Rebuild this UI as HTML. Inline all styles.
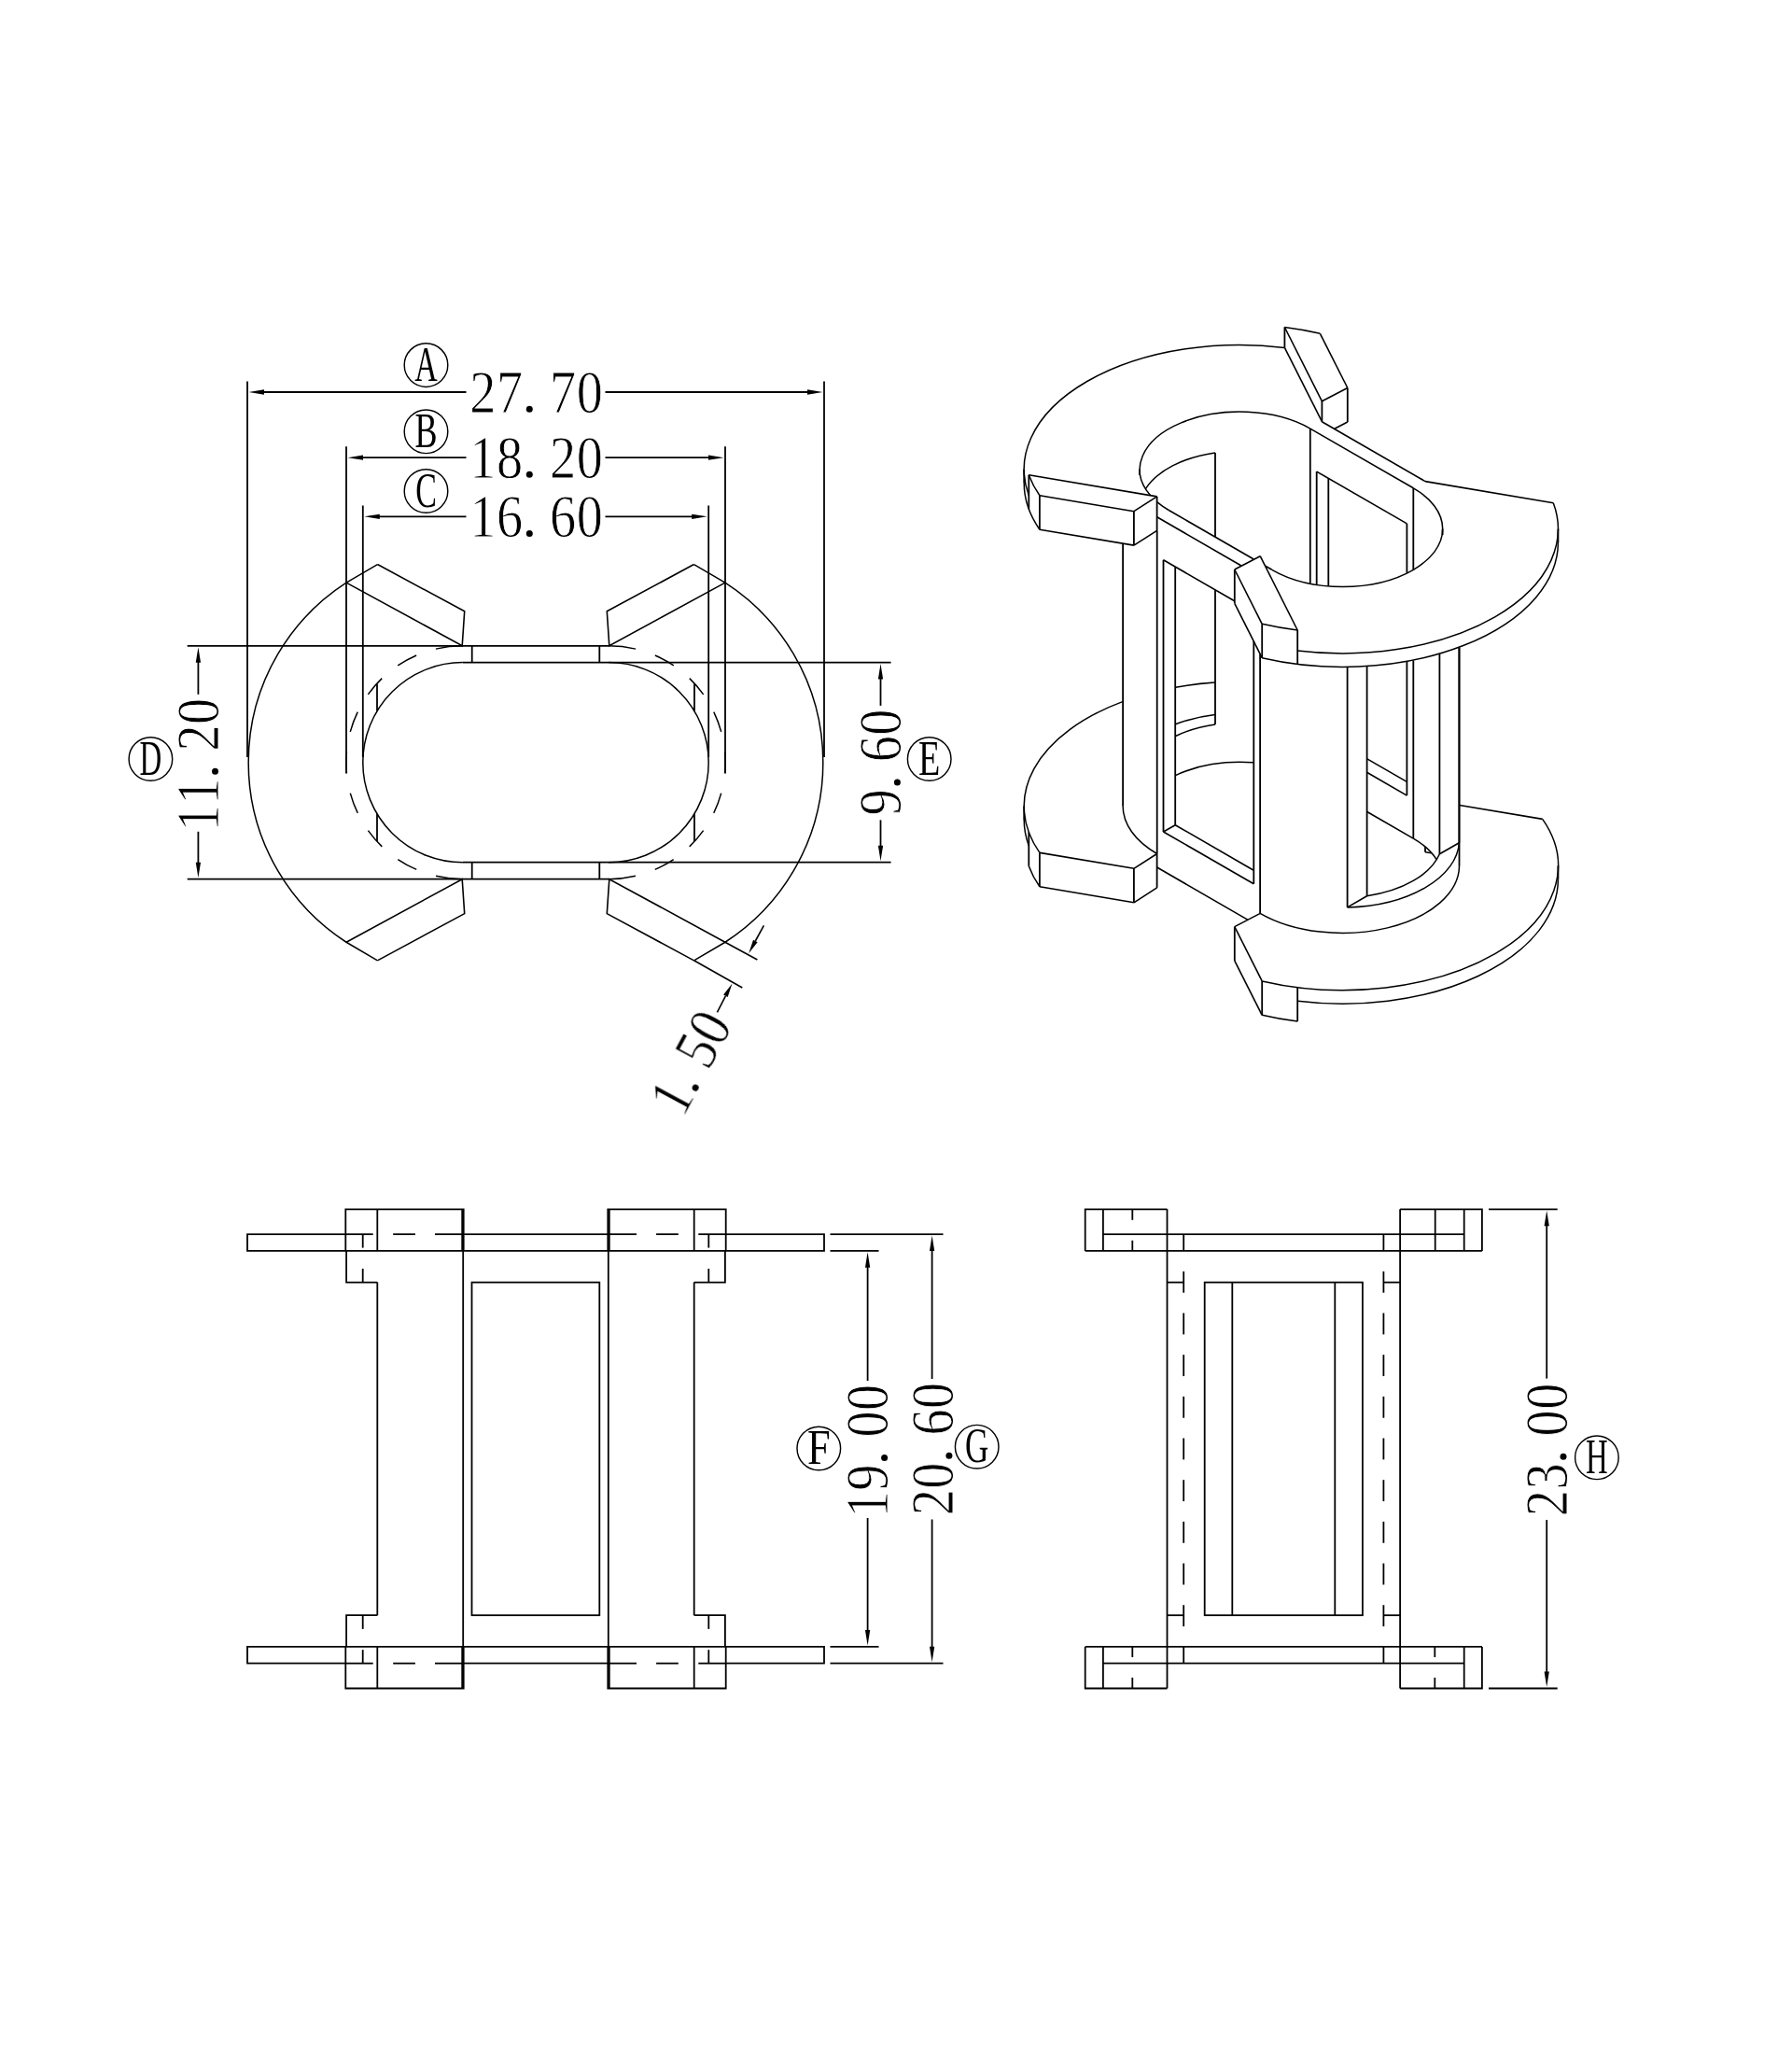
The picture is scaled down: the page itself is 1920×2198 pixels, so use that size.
<!DOCTYPE html>
<html><head><meta charset="utf-8"><title>drawing</title>
<style>
html,body{margin:0;padding:0;background:#fff;}
svg{display:block;}
text{font-family:"Liberation Serif",serif;fill:#000;}
svg{-webkit-font-smoothing:antialiased;}
</style></head>
<body>
<svg width="1920" height="2198" viewBox="0 0 1920 2198" fill="none" stroke="#000" stroke-linecap="butt">
<rect x="0" y="0" width="1920" height="2198" fill="#fff" stroke="none"/>
<g id="top" opacity="0.999">
<line x1="265.00" y1="408.50" x2="265.00" y2="811.00" stroke-width="1.8" />
<line x1="883.00" y1="408.50" x2="883.00" y2="811.00" stroke-width="1.8" />
<line x1="371.00" y1="478.20" x2="371.00" y2="828.50" stroke-width="1.8" />
<line x1="777.00" y1="478.20" x2="777.00" y2="828.50" stroke-width="1.8" />
<line x1="388.80" y1="541.50" x2="388.80" y2="811.00" stroke-width="1.8" />
<line x1="759.20" y1="541.50" x2="759.20" y2="811.00" stroke-width="1.8" />
<line x1="282.00" y1="420.00" x2="499.50" y2="420.00" stroke-width="1.8" />
<line x1="648.50" y1="420.00" x2="866.00" y2="420.00" stroke-width="1.8" />
<polygon points="266.50,420.00 283.00,417.35 283.00,422.65" fill="#000" stroke="none"/>
<polygon points="881.50,420.00 865.00,422.65 865.00,417.35" fill="#000" stroke="none"/>
<line x1="388.00" y1="490.20" x2="499.50" y2="490.20" stroke-width="1.8" />
<line x1="648.50" y1="490.20" x2="760.00" y2="490.20" stroke-width="1.8" />
<polygon points="372.50,490.20 389.00,487.55 389.00,492.85" fill="#000" stroke="none"/>
<polygon points="775.50,490.20 759.00,492.85 759.00,487.55" fill="#000" stroke="none"/>
<line x1="405.80" y1="553.30" x2="499.50" y2="553.30" stroke-width="1.8" />
<line x1="648.50" y1="553.30" x2="742.20" y2="553.30" stroke-width="1.8" />
<polygon points="390.30,553.30 406.80,550.65 406.80,555.95" fill="#000" stroke="none"/>
<polygon points="757.70,553.30 741.20,555.95 741.20,550.65" fill="#000" stroke="none"/>
<g transform="translate(574.60,420.30) rotate(0)">
<text transform="translate(-57.20,21.5) scale(0.86,1)" text-anchor="middle" font-size="65.5" stroke="#fff" stroke-width="0.9">2</text>
<text transform="translate(-28.60,21.5) scale(0.86,1)" text-anchor="middle" font-size="65.5" stroke="#fff" stroke-width="0.9">7</text>
<circle cx="-7.30" cy="17.90" r="3.5" fill="#000" stroke="none"/>
<text transform="translate(28.60,21.5) scale(0.86,1)" text-anchor="middle" font-size="65.5" stroke="#fff" stroke-width="0.9">7</text>
<text transform="translate(57.20,21.5) scale(0.86,1)" text-anchor="middle" font-size="65.5" stroke="#fff" stroke-width="0.9">0</text>
</g>
<g transform="translate(574.60,490.30) rotate(0)">
<text transform="translate(-57.20,21.5) scale(0.86,1)" text-anchor="middle" font-size="65.5" stroke="#fff" stroke-width="0.9">1</text>
<text transform="translate(-28.60,21.5) scale(0.86,1)" text-anchor="middle" font-size="65.5" stroke="#fff" stroke-width="0.9">8</text>
<circle cx="-7.30" cy="17.90" r="3.5" fill="#000" stroke="none"/>
<text transform="translate(28.60,21.5) scale(0.86,1)" text-anchor="middle" font-size="65.5" stroke="#fff" stroke-width="0.9">2</text>
<text transform="translate(57.20,21.5) scale(0.86,1)" text-anchor="middle" font-size="65.5" stroke="#fff" stroke-width="0.9">0</text>
</g>
<g transform="translate(574.60,553.60) rotate(0)">
<text transform="translate(-57.20,21.5) scale(0.86,1)" text-anchor="middle" font-size="65.5" stroke="#fff" stroke-width="0.9">1</text>
<text transform="translate(-28.60,21.5) scale(0.86,1)" text-anchor="middle" font-size="65.5" stroke="#fff" stroke-width="0.9">6</text>
<circle cx="-7.30" cy="17.90" r="3.5" fill="#000" stroke="none"/>
<text transform="translate(28.60,21.5) scale(0.86,1)" text-anchor="middle" font-size="65.5" stroke="#fff" stroke-width="0.9">6</text>
<text transform="translate(57.20,21.5) scale(0.86,1)" text-anchor="middle" font-size="65.5" stroke="#fff" stroke-width="0.9">0</text>
</g>
<circle cx="456.50" cy="391.10" r="23.3" stroke-width="1.45"/><text transform="translate(456.50,407.70) scale(0.64,1)" text-anchor="middle" font-size="53" stroke="none">A</text>
<circle cx="456.50" cy="462.30" r="23.3" stroke-width="1.45"/><text transform="translate(456.50,478.90) scale(0.68,1)" text-anchor="middle" font-size="53" stroke="none">B</text>
<circle cx="456.50" cy="526.00" r="23.3" stroke-width="1.45"/><text transform="translate(456.50,542.60) scale(0.64,1)" text-anchor="middle" font-size="53" stroke="none">C</text>
<line x1="200.70" y1="691.80" x2="652.60" y2="691.80" stroke-width="1.8" />
<line x1="200.70" y1="941.70" x2="652.60" y2="941.70" stroke-width="1.8" />
<line x1="212.40" y1="708.70" x2="212.40" y2="743.80" stroke-width="1.8" />
<line x1="212.40" y1="890.80" x2="212.40" y2="924.80" stroke-width="1.8" />
<polygon points="212.40,693.20 215.05,709.70 209.75,709.70" fill="#000" stroke="none"/>
<polygon points="212.40,940.30 209.75,923.80 215.05,923.80" fill="#000" stroke="none"/>
<g transform="translate(212.60,819.00) rotate(-90)">
<text transform="translate(-57.20,21.5) scale(0.86,1)" text-anchor="middle" font-size="65.5" stroke="#fff" stroke-width="0.9">1</text>
<text transform="translate(-28.60,21.5) scale(0.86,1)" text-anchor="middle" font-size="65.5" stroke="#fff" stroke-width="0.9">1</text>
<circle cx="-7.30" cy="17.90" r="3.5" fill="#000" stroke="none"/>
<text transform="translate(28.60,21.5) scale(0.86,1)" text-anchor="middle" font-size="65.5" stroke="#fff" stroke-width="0.9">2</text>
<text transform="translate(57.20,21.5) scale(0.86,1)" text-anchor="middle" font-size="65.5" stroke="#fff" stroke-width="0.9">0</text>
</g>
<circle cx="161.40" cy="813.00" r="23.3" stroke-width="1.45"/><text transform="translate(161.40,829.60) scale(0.62,1)" text-anchor="middle" font-size="53" stroke="none">D</text>
<line x1="495.90" y1="709.70" x2="954.60" y2="709.70" stroke-width="1.8" />
<line x1="495.90" y1="923.60" x2="954.60" y2="923.60" stroke-width="1.8" />
<line x1="943.50" y1="726.60" x2="943.50" y2="755.90" stroke-width="1.8" />
<line x1="943.50" y1="878.40" x2="943.50" y2="906.70" stroke-width="1.8" />
<polygon points="943.50,711.10 946.15,727.60 940.85,727.60" fill="#000" stroke="none"/>
<polygon points="943.50,922.20 940.85,905.70 946.15,905.70" fill="#000" stroke="none"/>
<g transform="translate(943.50,816.50) rotate(-90)">
<text transform="translate(-42.90,21.5) scale(0.86,1)" text-anchor="middle" font-size="65.5" stroke="#fff" stroke-width="0.9">9</text>
<circle cx="-21.60" cy="17.90" r="3.5" fill="#000" stroke="none"/>
<text transform="translate(14.30,21.5) scale(0.86,1)" text-anchor="middle" font-size="65.5" stroke="#fff" stroke-width="0.9">6</text>
<text transform="translate(42.90,21.5) scale(0.86,1)" text-anchor="middle" font-size="65.5" stroke="#fff" stroke-width="0.9">0</text>
</g>
<circle cx="995.70" cy="813.00" r="23.3" stroke-width="1.45"/><text transform="translate(995.70,829.60) scale(0.72,1)" text-anchor="middle" font-size="53" stroke="none">E</text>
<path d="M404.46 604.56 L371.05 624.15 A229.2 229.2 0 0 0 371.05 1009.25 L404.46 1028.84" stroke-width="1.5" />
<path d="M743.54 604.56 L776.95 624.15 A229.2 229.2 0 0 1 776.95 1009.25 L743.54 1028.84" stroke-width="1.5" />
<path d="M404.46 604.56 L497.70 654.80 L495.20 691.70 L371.05 624.15" stroke-width="1.6" stroke-linejoin="miter"/>
<path d="M404.46 1028.84 L497.70 978.60 L495.20 941.70 L371.05 1009.25" stroke-width="1.6" stroke-linejoin="miter"/>
<path d="M743.54 604.56 L650.30 654.80 L652.80 691.70 L776.95 624.15" stroke-width="1.6" stroke-linejoin="miter"/>
<path d="M743.54 1028.84 L650.30 978.60 L652.80 941.70 L776.95 1009.25" stroke-width="1.6" stroke-linejoin="miter"/>
<line x1="776.90" y1="1009.20" x2="811.40" y2="1028.00" stroke-width="1.6" />
<line x1="743.50" y1="1028.80" x2="795.30" y2="1058.00" stroke-width="1.6" />
<path d="M495.90 709.60 A107.1 107.1 0 0 0 495.90 923.80" stroke-width="1.5" />
<path d="M652.10 709.60 A107.1 107.1 0 0 1 652.10 923.80" stroke-width="1.5" />
<path d="M495.90 691.70 A125.0 125.0 0 0 0 495.90 941.70" stroke-width="1.5" stroke-dasharray="29.3 21.85 22.75 21.85 22.75 21.85 22.75 21.85 22.75 21.85 22.75 21.85 22.75 21.85 22.75 21.85 29.3"/>
<path d="M652.10 691.70 A125.0 125.0 0 0 1 652.10 941.70" stroke-width="1.5" stroke-dasharray="29.3 21.85 22.75 21.85 22.75 21.85 22.75 21.85 22.75 21.85 22.75 21.85 22.75 21.85 22.75 21.85 29.3"/>
<line x1="505.70" y1="691.80" x2="505.70" y2="709.70" stroke-width="1.8" />
<line x1="505.70" y1="923.60" x2="505.70" y2="941.70" stroke-width="1.8" />
<line x1="404.00" y1="732.50" x2="404.00" y2="761.70" stroke-width="1.8" />
<line x1="404.00" y1="871.70" x2="404.00" y2="901.00" stroke-width="1.8" />
<line x1="642.30" y1="691.80" x2="642.30" y2="709.70" stroke-width="1.8" />
<line x1="642.30" y1="923.60" x2="642.30" y2="941.70" stroke-width="1.8" />
<line x1="744.00" y1="732.50" x2="744.00" y2="761.70" stroke-width="1.8" />
<line x1="744.00" y1="871.70" x2="744.00" y2="901.00" stroke-width="1.8" />
<line x1="818.40" y1="991.40" x2="809.30" y2="1008.00" stroke-width="1.6" />
<polygon points="802.20,1021.20 807.02,1006.76 811.60,1009.23" fill="#000" stroke="none"/>
<line x1="768.40" y1="1084.30" x2="777.40" y2="1066.80" stroke-width="1.6" />
<polygon points="784.50,1053.60 779.68,1068.04 775.10,1065.57" fill="#000" stroke="none"/>
<g transform="translate(739.50,1137.60) rotate(-61.7)">
<text transform="translate(-42.90,21.5) scale(0.86,1)" text-anchor="middle" font-size="65.5" stroke="#fff" stroke-width="0.9">1</text>
<circle cx="-21.60" cy="17.90" r="3.5" fill="#000" stroke="none"/>
<text transform="translate(14.30,21.5) scale(0.86,1)" text-anchor="middle" font-size="65.5" stroke="#fff" stroke-width="0.9">5</text>
<text transform="translate(42.90,21.5) scale(0.86,1)" text-anchor="middle" font-size="65.5" stroke="#fff" stroke-width="0.9">0</text>
</g>
</g>
<g id="front" opacity="0.999">
<path d="M370.5 1322.10 L265 1322.10 L265 1339.90 L883 1339.90 L883 1322.10 L777.5 1322.10" stroke-width="1.8" />
<line x1="496.50" y1="1322.10" x2="651.50" y2="1322.10" stroke-width="1.8" />
<path d="M777.70 1339.90 L777.70 1295.30 L651.30 1295.30 L651.30 1339.90" stroke-width="1.8" />
<line x1="652.80" y1="1295.30" x2="652.80" y2="1339.90" stroke-width="1.8" />
<line x1="743.70" y1="1295.30" x2="743.70" y2="1339.90" stroke-width="1.8" />
<line x1="777.70" y1="1322.10" x2="748.30" y2="1322.10" stroke-width="1.8" />
<line x1="726.80" y1="1322.10" x2="703.10" y2="1322.10" stroke-width="1.8" />
<line x1="682.00" y1="1322.10" x2="651.30" y2="1322.10" stroke-width="1.8" />
<line x1="759.30" y1="1322.10" x2="759.30" y2="1336.60" stroke-width="1.8" />
<line x1="759.30" y1="1358.90" x2="759.30" y2="1373.60" stroke-width="1.8" />
<path d="M776.90 1339.90 L776.90 1373.60 L743.70 1373.60" stroke-width="1.8" />
<path d="M370.30 1339.90 L370.30 1295.30 L496.70 1295.30 L496.70 1339.90" stroke-width="1.8" />
<line x1="495.20" y1="1295.30" x2="495.20" y2="1339.90" stroke-width="1.8" />
<line x1="404.30" y1="1295.30" x2="404.30" y2="1339.90" stroke-width="1.8" />
<line x1="370.30" y1="1322.10" x2="399.70" y2="1322.10" stroke-width="1.8" />
<line x1="421.20" y1="1322.10" x2="444.90" y2="1322.10" stroke-width="1.8" />
<line x1="466.00" y1="1322.10" x2="496.70" y2="1322.10" stroke-width="1.8" />
<line x1="388.70" y1="1322.10" x2="388.70" y2="1336.60" stroke-width="1.8" />
<line x1="388.70" y1="1358.90" x2="388.70" y2="1373.60" stroke-width="1.8" />
<path d="M371.10 1339.90 L371.10 1373.60 L404.30 1373.60" stroke-width="1.8" />
<path d="M370.5 1781.70 L265 1781.70 L265 1763.90 L883 1763.90 L883 1781.70 L777.5 1781.70" stroke-width="1.8" />
<line x1="496.50" y1="1781.70" x2="651.50" y2="1781.70" stroke-width="1.8" />
<path d="M777.70 1763.90 L777.70 1808.50 L651.30 1808.50 L651.30 1763.90" stroke-width="1.8" />
<line x1="652.80" y1="1808.50" x2="652.80" y2="1763.90" stroke-width="1.8" />
<line x1="743.70" y1="1808.50" x2="743.70" y2="1763.90" stroke-width="1.8" />
<line x1="777.70" y1="1781.70" x2="748.30" y2="1781.70" stroke-width="1.8" />
<line x1="726.80" y1="1781.70" x2="703.10" y2="1781.70" stroke-width="1.8" />
<line x1="682.00" y1="1781.70" x2="651.30" y2="1781.70" stroke-width="1.8" />
<line x1="759.30" y1="1781.70" x2="759.30" y2="1767.20" stroke-width="1.8" />
<line x1="759.30" y1="1744.90" x2="759.30" y2="1730.20" stroke-width="1.8" />
<path d="M776.90 1763.90 L776.90 1730.20 L743.70 1730.20" stroke-width="1.8" />
<path d="M370.30 1763.90 L370.30 1808.50 L496.70 1808.50 L496.70 1763.90" stroke-width="1.8" />
<line x1="495.20" y1="1808.50" x2="495.20" y2="1763.90" stroke-width="1.8" />
<line x1="404.30" y1="1808.50" x2="404.30" y2="1763.90" stroke-width="1.8" />
<line x1="370.30" y1="1781.70" x2="399.70" y2="1781.70" stroke-width="1.8" />
<line x1="421.20" y1="1781.70" x2="444.90" y2="1781.70" stroke-width="1.8" />
<line x1="466.00" y1="1781.70" x2="496.70" y2="1781.70" stroke-width="1.8" />
<line x1="388.70" y1="1781.70" x2="388.70" y2="1767.20" stroke-width="1.8" />
<line x1="388.70" y1="1744.90" x2="388.70" y2="1730.20" stroke-width="1.8" />
<path d="M371.10 1763.90 L371.10 1730.20 L404.30 1730.20" stroke-width="1.8" />
<line x1="743.70" y1="1373.60" x2="743.70" y2="1730.20" stroke-width="1.8" />
<line x1="651.80" y1="1339.90" x2="651.80" y2="1763.90" stroke-width="1.8" />
<line x1="404.30" y1="1373.60" x2="404.30" y2="1730.20" stroke-width="1.8" />
<line x1="496.20" y1="1339.90" x2="496.20" y2="1763.90" stroke-width="1.8" />
<rect x="505.5" y="1373.60" width="136.8" height="356.60" stroke-width="1.8"/>
<line x1="889.50" y1="1339.90" x2="941.50" y2="1339.90" stroke-width="1.8" />
<line x1="889.50" y1="1763.90" x2="941.50" y2="1763.90" stroke-width="1.8" />
<line x1="889.50" y1="1322.10" x2="1010.50" y2="1322.10" stroke-width="1.8" />
<line x1="889.50" y1="1781.70" x2="1010.50" y2="1781.70" stroke-width="1.8" />
<line x1="929.60" y1="1356.80" x2="929.60" y2="1479.00" stroke-width="1.8" />
<line x1="929.60" y1="1626.00" x2="929.60" y2="1747.00" stroke-width="1.8" />
<polygon points="929.60,1341.30 932.25,1357.80 926.95,1357.80" fill="#000" stroke="none"/>
<polygon points="929.60,1762.50 926.95,1746.00 932.25,1746.00" fill="#000" stroke="none"/>
<line x1="998.60" y1="1339.00" x2="998.60" y2="1477.00" stroke-width="1.8" />
<line x1="998.60" y1="1627.50" x2="998.60" y2="1764.80" stroke-width="1.8" />
<polygon points="998.60,1323.50 1001.25,1340.00 995.95,1340.00" fill="#000" stroke="none"/>
<polygon points="998.60,1780.30 995.95,1763.80 1001.25,1763.80" fill="#000" stroke="none"/>
<g transform="translate(929.70,1554.10) rotate(-90)">
<text transform="translate(-57.20,21.5) scale(0.86,1)" text-anchor="middle" font-size="65.5" stroke="#fff" stroke-width="0.9">1</text>
<text transform="translate(-28.60,21.5) scale(0.86,1)" text-anchor="middle" font-size="65.5" stroke="#fff" stroke-width="0.9">9</text>
<circle cx="-7.30" cy="17.90" r="3.5" fill="#000" stroke="none"/>
<text transform="translate(28.60,21.5) scale(0.86,1)" text-anchor="middle" font-size="65.5" stroke="#fff" stroke-width="0.9">0</text>
<text transform="translate(57.20,21.5) scale(0.86,1)" text-anchor="middle" font-size="65.5" stroke="#fff" stroke-width="0.9">0</text>
</g>
<g transform="translate(999.00,1552.00) rotate(-90)">
<text transform="translate(-57.20,21.5) scale(0.86,1)" text-anchor="middle" font-size="65.5" stroke="#fff" stroke-width="0.9">2</text>
<text transform="translate(-28.60,21.5) scale(0.86,1)" text-anchor="middle" font-size="65.5" stroke="#fff" stroke-width="0.9">0</text>
<circle cx="-7.30" cy="17.90" r="3.5" fill="#000" stroke="none"/>
<text transform="translate(28.60,21.5) scale(0.86,1)" text-anchor="middle" font-size="65.5" stroke="#fff" stroke-width="0.9">6</text>
<text transform="translate(57.20,21.5) scale(0.86,1)" text-anchor="middle" font-size="65.5" stroke="#fff" stroke-width="0.9">0</text>
</g>
<circle cx="877.30" cy="1551.50" r="23.3" stroke-width="1.45"/><text transform="translate(877.30,1568.10) scale(0.84,1)" text-anchor="middle" font-size="53" stroke="none">F</text>
<circle cx="1046.70" cy="1549.70" r="23.3" stroke-width="1.45"/><text transform="translate(1046.70,1566.30) scale(0.66,1)" text-anchor="middle" font-size="53" stroke="none">G</text>
</g>
<g id="side" opacity="0.999">
<line x1="1250.50" y1="1295.30" x2="1250.50" y2="1808.50" stroke-width="1.8" />
<line x1="1500.10" y1="1295.30" x2="1500.10" y2="1808.50" stroke-width="1.8" />
<path d="M1250.50 1295.30 L1162.70 1295.30 L1162.70 1339.90" stroke-width="1.8" />
<line x1="1181.90" y1="1295.30" x2="1181.90" y2="1339.90" stroke-width="1.8" />
<line x1="1213.30" y1="1295.30" x2="1213.30" y2="1306.80" stroke-width="1.8" />
<line x1="1213.30" y1="1328.70" x2="1213.30" y2="1339.90" stroke-width="1.8" />
<line x1="1268.20" y1="1322.10" x2="1268.20" y2="1339.90" stroke-width="1.8" />
<line x1="1250.50" y1="1373.60" x2="1268.20" y2="1373.60" stroke-width="1.8" />
<path d="M1500.10 1295.30 L1587.90 1295.30 L1587.90 1339.90" stroke-width="1.8" />
<line x1="1568.70" y1="1295.30" x2="1568.70" y2="1339.90" stroke-width="1.8" />
<line x1="1537.70" y1="1295.30" x2="1537.70" y2="1339.90" stroke-width="1.8" />
<line x1="1482.40" y1="1322.10" x2="1482.40" y2="1339.90" stroke-width="1.8" />
<line x1="1500.10" y1="1373.60" x2="1482.40" y2="1373.60" stroke-width="1.8" />
<line x1="1162.70" y1="1339.90" x2="1587.90" y2="1339.90" stroke-width="1.8" />
<line x1="1181.90" y1="1322.10" x2="1568.70" y2="1322.10" stroke-width="1.8" />
<path d="M1250.50 1808.50 L1162.70 1808.50 L1162.70 1763.90" stroke-width="1.8" />
<line x1="1181.90" y1="1808.50" x2="1181.90" y2="1763.90" stroke-width="1.8" />
<line x1="1213.30" y1="1808.50" x2="1213.30" y2="1797.00" stroke-width="1.8" />
<line x1="1213.30" y1="1775.10" x2="1213.30" y2="1763.90" stroke-width="1.8" />
<line x1="1268.20" y1="1781.70" x2="1268.20" y2="1763.90" stroke-width="1.8" />
<line x1="1250.50" y1="1730.20" x2="1268.20" y2="1730.20" stroke-width="1.8" />
<path d="M1500.10 1808.50 L1587.90 1808.50 L1587.90 1763.90" stroke-width="1.8" />
<line x1="1568.70" y1="1808.50" x2="1568.70" y2="1763.90" stroke-width="1.8" />
<line x1="1537.30" y1="1808.50" x2="1537.30" y2="1797.00" stroke-width="1.8" />
<line x1="1537.30" y1="1775.10" x2="1537.30" y2="1763.90" stroke-width="1.8" />
<line x1="1482.40" y1="1781.70" x2="1482.40" y2="1763.90" stroke-width="1.8" />
<line x1="1500.10" y1="1730.20" x2="1482.40" y2="1730.20" stroke-width="1.8" />
<line x1="1162.70" y1="1763.90" x2="1587.90" y2="1763.90" stroke-width="1.8" />
<line x1="1181.90" y1="1781.70" x2="1568.70" y2="1781.70" stroke-width="1.8" />
<line x1="1268.20" y1="1361.80" x2="1268.20" y2="1384.70" stroke-width="1.8" />
<line x1="1268.20" y1="1406.48" x2="1268.20" y2="1429.38" stroke-width="1.8" />
<line x1="1268.20" y1="1451.16" x2="1268.20" y2="1474.06" stroke-width="1.8" />
<line x1="1268.20" y1="1495.84" x2="1268.20" y2="1518.74" stroke-width="1.8" />
<line x1="1268.20" y1="1540.52" x2="1268.20" y2="1563.42" stroke-width="1.8" />
<line x1="1268.20" y1="1585.20" x2="1268.20" y2="1608.10" stroke-width="1.8" />
<line x1="1268.20" y1="1629.88" x2="1268.20" y2="1652.78" stroke-width="1.8" />
<line x1="1268.20" y1="1674.56" x2="1268.20" y2="1697.46" stroke-width="1.8" />
<line x1="1268.20" y1="1719.24" x2="1268.20" y2="1742.14" stroke-width="1.8" />
<line x1="1482.40" y1="1361.80" x2="1482.40" y2="1384.70" stroke-width="1.8" />
<line x1="1482.40" y1="1406.48" x2="1482.40" y2="1429.38" stroke-width="1.8" />
<line x1="1482.40" y1="1451.16" x2="1482.40" y2="1474.06" stroke-width="1.8" />
<line x1="1482.40" y1="1495.84" x2="1482.40" y2="1518.74" stroke-width="1.8" />
<line x1="1482.40" y1="1540.52" x2="1482.40" y2="1563.42" stroke-width="1.8" />
<line x1="1482.40" y1="1585.20" x2="1482.40" y2="1608.10" stroke-width="1.8" />
<line x1="1482.40" y1="1629.88" x2="1482.40" y2="1652.78" stroke-width="1.8" />
<line x1="1482.40" y1="1674.56" x2="1482.40" y2="1697.46" stroke-width="1.8" />
<line x1="1482.40" y1="1719.24" x2="1482.40" y2="1742.14" stroke-width="1.8" />
<rect x="1290.70" y="1373.60" width="169.2" height="356.60" stroke-width="1.8"/>
<line x1="1320.30" y1="1373.60" x2="1320.30" y2="1730.20" stroke-width="1.8" />
<line x1="1430.30" y1="1373.60" x2="1430.30" y2="1730.20" stroke-width="1.8" />
<line x1="1595.00" y1="1295.30" x2="1668.70" y2="1295.30" stroke-width="1.8" />
<line x1="1595.00" y1="1808.50" x2="1668.70" y2="1808.50" stroke-width="1.8" />
<line x1="1657.20" y1="1312.20" x2="1657.20" y2="1476.60" stroke-width="1.8" />
<line x1="1657.20" y1="1628.10" x2="1657.20" y2="1791.60" stroke-width="1.8" />
<polygon points="1657.20,1296.70 1659.85,1313.20 1654.55,1313.20" fill="#000" stroke="none"/>
<polygon points="1657.20,1807.10 1654.55,1790.60 1659.85,1790.60" fill="#000" stroke="none"/>
<g transform="translate(1657.10,1552.90) rotate(-90)">
<text transform="translate(-57.20,21.5) scale(0.86,1)" text-anchor="middle" font-size="65.5" stroke="#fff" stroke-width="0.9">2</text>
<text transform="translate(-28.60,21.5) scale(0.86,1)" text-anchor="middle" font-size="65.5" stroke="#fff" stroke-width="0.9">3</text>
<circle cx="-7.30" cy="17.90" r="3.5" fill="#000" stroke="none"/>
<text transform="translate(28.60,21.5) scale(0.86,1)" text-anchor="middle" font-size="65.5" stroke="#fff" stroke-width="0.9">0</text>
<text transform="translate(57.20,21.5) scale(0.86,1)" text-anchor="middle" font-size="65.5" stroke="#fff" stroke-width="0.9">0</text>
</g>
<circle cx="1710.90" cy="1561.30" r="23.3" stroke-width="1.45"/><text transform="translate(1710.90,1577.90) scale(0.62,1)" text-anchor="middle" font-size="53" stroke="none">H</text>
</g>
<g id="iso">
<path d="M1113.9 530.8L1214.9 547.7" stroke-width="1.6"/>
<path d="M1214.9 547.7L1239.6 531.9" stroke-width="1.6"/>
<path d="M1239.6 531.9L1102.3 508.8" stroke-width="1.6"/>
<path d="M1113.9 567.2L1214.9 584.1" stroke-width="1.6"/>
<path d="M1214.9 584.1L1239.6 568.3" stroke-width="1.6"/>
<path d="M1102.3 508.8A230.9 133.31 0 0 0 1113.9 530.8" stroke-width="1.5"/>
<path d="M1102.3 545.2L1102.3 508.8" stroke-width="1.8"/>
<path d="M1113.9 567.2L1113.9 530.8" stroke-width="1.8"/>
<path d="M1214.9 584.1L1214.9 547.7" stroke-width="1.8"/>
<path d="M1239.6 568.3L1239.6 531.9" stroke-width="1.8"/>
<path d="M1414.4 357.3L1443.8 415.5" stroke-width="1.6"/>
<path d="M1443.8 415.5L1416.4 429.8" stroke-width="1.6"/>
<path d="M1416.4 429.8L1376.4 350.5" stroke-width="1.6"/>
<path d="M1443.8 452.0L1429.9 459.2" stroke-width="1.6"/>
<path d="M1376.4 350.5A230.9 133.31 0 0 1 1414.4 357.3" stroke-width="1.5"/>
<path d="M1416.4 451.7L1376.4 372.4" stroke-width="1.6"/>
<path d="M1376.4 372.2L1376.4 350.5" stroke-width="1.8"/>
<path d="M1443.8 452.0L1443.8 415.5" stroke-width="1.8"/>
<path d="M1416.4 451.5L1416.4 429.8" stroke-width="1.8"/>
<path d="M1352.2 668.3L1322.8 610.0" stroke-width="1.6"/>
<path d="M1322.8 610.0L1350.2 595.7" stroke-width="1.6"/>
<path d="M1350.2 595.7L1390.2 675.0" stroke-width="1.6"/>
<path d="M1352.2 704.7L1322.8 646.4" stroke-width="1.6"/>
<path d="M1390.2 675.0A230.9 133.31 0 0 1 1352.2 668.3" stroke-width="1.5"/>
<path d="M1390.2 711.4L1390.2 675.0" stroke-width="1.8"/>
<path d="M1352.2 704.7L1352.2 668.3" stroke-width="1.8"/>
<path d="M1322.8 646.4L1322.8 610.0" stroke-width="1.8"/>
<path d="M1527.0 912.7L1533.7 913.8" stroke-width="1.6"/>
<path d="M1652.7 877.4L1563.8 862.5" stroke-width="1.6"/>
<path d="M1527.0 912.7L1527.0 907.0" stroke-width="1.8"/>
<path d="M1352.2 1087.3L1322.8 1029.1" stroke-width="1.6"/>
<path d="M1352.2 1050.9L1322.8 992.6" stroke-width="1.6"/>
<path d="M1322.8 992.6L1350.2 978.4" stroke-width="1.6"/>
<path d="M1390.2 1094.1A230.9 133.31 0 0 1 1352.2 1087.3" stroke-width="1.5"/>
<path d="M1390.2 1094.1L1390.2 1057.6" stroke-width="1.8"/>
<path d="M1352.2 1087.3L1352.2 1050.9" stroke-width="1.8"/>
<path d="M1322.8 1029.1L1322.8 992.6" stroke-width="1.8"/>
<path d="M1113.9 949.8L1214.9 966.8" stroke-width="1.6"/>
<path d="M1214.9 966.8L1239.6 950.9" stroke-width="1.6"/>
<path d="M1113.9 913.4L1214.9 930.3" stroke-width="1.6"/>
<path d="M1214.9 930.3L1239.6 914.5" stroke-width="1.6"/>
<path d="M1102.3 927.8A230.9 133.31 0 0 0 1113.9 949.8" stroke-width="1.5"/>
<path d="M1102.3 927.8L1102.3 891.4" stroke-width="1.8"/>
<path d="M1113.9 949.8L1113.9 913.4" stroke-width="1.8"/>
<path d="M1214.9 966.8L1214.9 930.3" stroke-width="1.8"/>
<path d="M1239.6 950.9L1239.6 914.5" stroke-width="1.8"/>
<path d="M1664.3 538.7A230.9 133.31 0 0 1 1390.2 696.9" stroke-width="1.5"/>
<path d="M1669.4 581.0A230.9 133.31 0 0 1 1352.2 704.7" stroke-width="1.5"/>
<path d="M1669.4 581.1L1669.4 566.6" stroke-width="1.8"/>
<path d="M1527.0 515.6L1664.3 538.7" stroke-width="1.6"/>
<path d="M1669.4 941.7A230.9 133.31 0 0 1 1390.2 1072.2" stroke-width="1.5"/>
<path d="M1652.7 877.4A230.9 133.31 0 0 1 1352.2 1050.9" stroke-width="1.5"/>
<path d="M1669.4 941.8L1669.4 927.3" stroke-width="1.8"/>
<path d="M1102.3 530.7A230.9 133.31 0 0 1 1376.4 372.4" stroke-width="1.5"/>
<path d="M1113.9 567.2A230.9 133.31 0 0 1 1097.2 517.3" stroke-width="1.5"/>
<path d="M1097.2 517.3L1097.2 502.8" stroke-width="1.8"/>
<path d="M1102.3 905.9A230.9 133.31 0 0 1 1097.2 878.1" stroke-width="1.5"/>
<path d="M1113.9 913.4A230.9 133.31 0 0 1 1202.7 751.6" stroke-width="1.5"/>
<path d="M1259.6 736.2A230.9 133.31 0 0 1 1301.6 731.1" stroke-width="1.5"/>
<path d="M1097.2 878.0L1097.2 863.5" stroke-width="1.8"/>
<path d="M1252.3 546.5L1343.3 599.0" stroke-width="1.6"/>
<path d="M1355.7 606.2L1362.8 610.3" stroke-width="1.6"/>
<path d="M1403.8 459.1L1514.3 522.8" stroke-width="1.6"/>
<path d="M1514.3 522.8A107.1 61.83 0 0 1 1362.8 610.3" stroke-width="1.5"/>
<path d="M1252.3 546.5A107.1 61.83 0 0 1 1239.9 537.9" stroke-width="1.5"/>
<path d="M1232.5 530.6A107.1 61.83 0 0 1 1403.8 459.1" stroke-width="1.5"/>
<path d="M1239.6 553.8L1330.0 606.0" stroke-width="1.6"/>
<path d="M1416.4 451.7L1527.0 515.6" stroke-width="1.6"/>
<path d="M1464.7 869.5L1514.3 898.1" stroke-width="1.6"/>
<path d="M1514.3 898.1A107.1 61.83 0 0 1 1539.1 920.6" stroke-width="1.5"/>
<path d="M1259.4 830.6A107.1 61.83 0 0 1 1343.0 816.8" stroke-width="1.5"/>
<path d="M1239.6 929.0L1336.7 985.1" stroke-width="1.6"/>
<path d="M1563.5 926.9A125.0 72.17 0 0 1 1350.1 978.3" stroke-width="1.5"/>
<path d="M1239.7 914.5A125.0 72.17 0 0 1 1203.1 863.3" stroke-width="1.5"/>
<path d="M1246.5 599.8L1322.7 643.8" stroke-width="1.6"/>
<path d="M1246.5 891.0L1343.3 946.8" stroke-width="1.6"/>
<path d="M1246.5 891.0L1246.5 599.8" stroke-width="1.8"/>
<path d="M1343.3 946.8L1343.3 687.1" stroke-width="1.8"/>
<path d="M1259.2 883.7L1343.2 932.2" stroke-width="1.6"/>
<path d="M1259.2 883.7L1259.2 607.2" stroke-width="1.8"/>
<path d="M1246.5 891.0L1259.2 883.7" stroke-width="1.6"/>
<path d="M1464.8 812.9L1507.3 837.4" stroke-width="1.6"/>
<path d="M1423.3 627.6L1423.3 512.5" stroke-width="1.8"/>
<path d="M1410.7 505.1L1507.4 560.9" stroke-width="1.6"/>
<path d="M1464.9 827.5L1507.4 852.1" stroke-width="1.6"/>
<path d="M1410.7 625.9L1410.7 505.1" stroke-width="1.8"/>
<path d="M1507.4 852.1L1507.4 708.3" stroke-width="1.8"/>
<path d="M1507.4 613.6L1507.4 560.9" stroke-width="1.8"/>
<path d="M1350.1 978.3L1350.1 700.7" stroke-width="1.8"/>
<path d="M1514.3 898.1L1514.3 707.4" stroke-width="1.8"/>
<path d="M1514.3 610.2L1514.3 522.8" stroke-width="1.8"/>
<path d="M1239.7 914.5L1239.7 568.3" stroke-width="1.8"/>
<path d="M1403.8 624.8L1403.8 459.1" stroke-width="1.8"/>
<path d="M1563.5 927.3L1563.5 693.4" stroke-width="1.8"/>
<path d="M1545.6 573.1L1545.6 566.6" stroke-width="1.8"/>
<path d="M1203.1 863.5L1203.1 582.2" stroke-width="1.8"/>
<path d="M1221.0 508.9L1221.0 502.8" stroke-width="1.8"/>
<path d="M1443.6 971.9L1443.6 714.6" stroke-width="1.8"/>
<path d="M1464.6 959.7L1464.6 713.9" stroke-width="1.8"/>
<path d="M1443.6 971.9L1464.6 959.7" stroke-width="1.6"/>
<path d="M1563.4 902.7L1563.4 693.6" stroke-width="1.8"/>
<path d="M1542.4 914.8L1542.4 700.4" stroke-width="1.8"/>
<path d="M1563.4 902.7L1542.4 914.8" stroke-width="1.6"/>
<path d="M1563.4 902.7A125.0 72.17 0 0 1 1443.6 971.9" stroke-width="1.5"/>
<path d="M1542.4 914.8A107.1 61.83 0 0 1 1464.6 959.7" stroke-width="1.5"/>
<path d="M1302.0 776.0L1302.0 631.9" stroke-width="1.8"/>
<path d="M1302.0 575.1L1302.0 484.9" stroke-width="1.8"/>
<path d="M1227.4 523.7A107.1 61.83 0 0 1 1302.0 484.9" stroke-width="1.5"/>
<path d="M1259.4 775.7A125.0 72.17 0 0 1 1301.7 765.5" stroke-width="1.5"/>
<path d="M1259.5 788.5A107.1 61.83 0 0 1 1302.0 776.0" stroke-width="1.5"/>
</g>
</svg>
</body></html>
